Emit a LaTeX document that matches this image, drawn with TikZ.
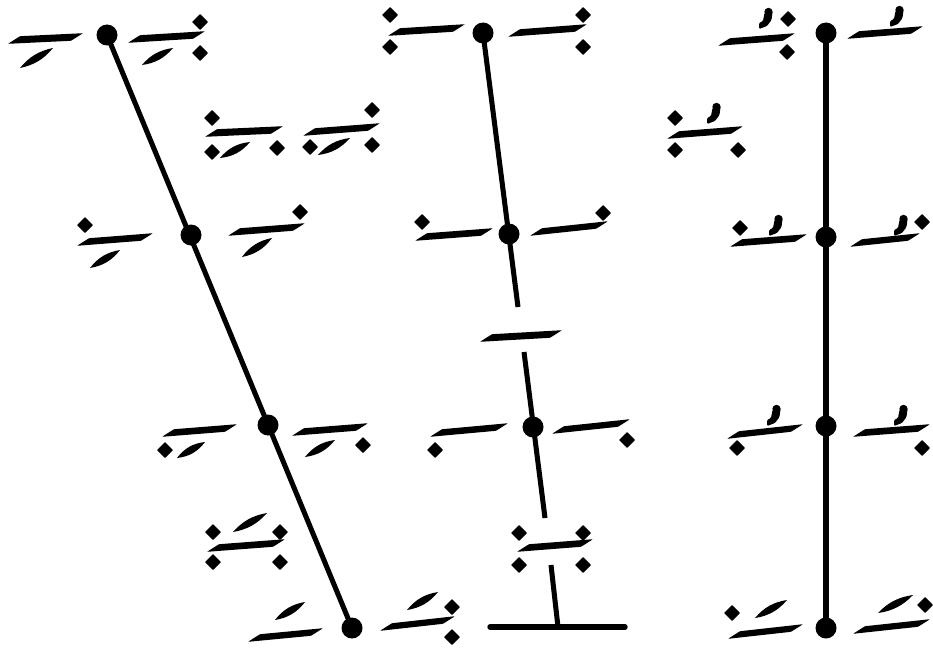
\documentclass[tikz,border=0pt]{standalone}
\usepackage{tikz}

% one stroke of the pen, laid along the baseline
\newcommand\kashida[4]{%
  \fill[rounded corners=0.6pt] ({#1},{#2+3.8}) -- ({#1+12},{#2-3.8}) -- ({#3},{#4-3.8}) -- ({#3-12},{#4+3.8}) -- cycle;}
% short slanted stroke (fatha / kasra)
\newcommand\haraka[4]{%
  \pgfmathsetmacro\hmx{(#1+#3)/2}\pgfmathsetmacro\hmy{(#2+#4)/2}%
  \pgfmathsetmacro\hang{atan2(#2-#4,#3-#1)}\pgfmathsetmacro\hlen{veclen(#3-#1,#4-#2)/2}%
  \fill[shift={(\hmx,\hmy)}, rotate=\hang] ({-\hlen},0) .. controls ({-0.3*\hlen},4.8) and ({0.3*\hlen},4.8) .. ({\hlen},0)
    .. controls ({0.3*\hlen},-4.8) and ({-0.3*\hlen},-4.8) .. cycle;}
% dot
\newcommand\nuqta[2]{%
  \fill[rounded corners=0.4pt] ({#1},{#2-8}) -- ({#1+8},{#2}) -- ({#1},{#2+8}) -- ({#1-8},{#2}) -- cycle;}
% small waw above (damma)
\newcommand\damma[2]{%
  \fill ({#1+2.5},{#2-5}) circle [radius=4.2];
  \fill[rounded corners=1pt] ({#1+6.5},{#2-5}) -- ({#1+5.5},{#2+3}) -- ({#1+1},{#2+9}) -- ({#1-7},{#2+12})
    -- ({#1-7},{#2+6}) -- ({#1-3},{#2+4}) -- ({#1-1.5},{#2-4}) -- cycle;}

\begin{document}
\begin{tikzpicture}[x=0.03cm, y=-0.03cm,
  joint/.style={circle, fill=black, inner sep=0pt, minimum size=0.63cm},
  stem/.style={line width=4.3pt},
  trunk/.style={line width=5.2pt}]
\useasboundingbox (0,0) rectangle (933,647);

% left column
\node[joint] (a1) at (107,35) {};
\node[joint] (a2) at (191,235) {};
\node[joint] (a3) at (268,425) {};
\node[joint] (a4) at (352,628) {};
\draw[stem] (a1.center) -- (a4.center);

% middle column
\node[joint] (b1) at (483,33) {};
\node[joint] (b2) at (509,234) {};
\node[joint] (b3) at (533,427) {};
\coordinate (c1) at (518,307);
\coordinate (c2) at (524,352);
\coordinate (c3) at (545,518);
\coordinate (c4) at (551,565);
\coordinate (c5) at (558,627);
\coordinate (d1) at (490,627);
\coordinate (d2) at (625,627);
\draw[stem] (b1.center) -- (c1);
\draw[stem] (c2) -- (c3);
\draw[stem] (c4) -- (c5);
\draw[stem, line width=4.6pt, line cap=round] (d1) -- (d2);

% right column
\node[joint] (e1) at (826,33) {};
\node[joint] (e2) at (826,237) {};
\node[joint] (e3) at (826,426) {};
\node[joint] (e4) at (826,628) {};
\draw[trunk] (e1.center) -- (e4.center);

% row 1
\kashida{8}{40}{83}{37} \haraka{20}{68}{53}{48}
\kashida{128}{39}{205}{35} \haraka{142}{65}{173}{48} \nuqta{200}{22} \nuqta{200}{53}
\nuqta{390}{15} \nuqta{390}{47} \kashida{388}{32}{465}{28}
\kashida{508}{33}{587}{28} \nuqta{583}{15} \nuqta{583}{47}
\kashida{718}{42}{795}{37} \damma{766}{17} \nuqta{788}{19} \nuqta{787}{52}
\kashida{847}{35}{923}{30} \damma{897}{15}

% row between 1 and 2
\nuqta{212}{118} \kashida{205}{133}{283}{130} \nuqta{212}{152} \haraka{220}{158}{250}{142} \nuqta{277}{148}
\kashida{303}{132}{380}{127} \nuqta{372}{110} \nuqta{310}{147} \haraka{318}{155}{350}{138} \nuqta{372}{145}
\nuqta{675}{118} \nuqta{675}{150} \nuqta{738}{150} \kashida{667}{135}{743}{130} \damma{714}{112}

% row 2
\nuqta{85}{225} \kashida{77}{242}{153}{237} \haraka{90}{268}{120}{250}
\kashida{228}{232}{305}{227} \nuqta{300}{212} \haraka{242}{257}{272}{238}
\nuqta{422}{222} \kashida{415}{237}{493}{232}
\kashida{530}{232}{608}{225} \nuqta{603}{213}
\nuqta{740}{228} \damma{776}{224} \kashida{730}{243}{807}{238}
\kashida{850}{243}{920}{237} \damma{901}{224} \nuqta{922}{222}

% middle bar
\kashida{480}{338}{562}{334}

% row 3
\kashida{162}{433}{237}{428} \nuqta{165}{450} \haraka{177}{458}{205}{442}
\kashida{292}{432}{368}{427} \haraka{305}{457}{335}{440} \nuqta{363}{445}
\kashida{430}{433}{508}{427} \nuqta{435}{450}
\kashida{552}{430}{630}{423} \nuqta{627}{440}
\kashida{727}{435}{803}{428} \damma{774}{414} \nuqta{737}{448}
\kashida{853}{433}{930}{428} \damma{901}{414} \nuqta{922}{448}

% row between 3 and 4
\nuqta{213}{532} \nuqta{213}{562} \nuqta{280}{532} \nuqta{280}{562}
\kashida{207}{548}{285}{543} \haraka{233}{532}{267}{513}
\nuqta{519}{533} \nuqta{583}{533} \nuqta{519}{565} \nuqta{583}{565}
\kashida{517}{548}{593}{543}

% row 4
\kashida{248}{638}{323}{632} \haraka{275}{620}{305}{602}
\kashida{380}{627}{455}{620} \haraka{407}{610}{438}{592} \nuqta{452}{607} \nuqta{452}{637}
\nuqta{732}{613} \haraka{755}{618}{787}{600} \kashida{728}{635}{803}{628}
\kashida{853}{630}{930}{623} \haraka{878}{613}{913}{595} \nuqta{925}{605}
\end{tikzpicture}
\end{document}
